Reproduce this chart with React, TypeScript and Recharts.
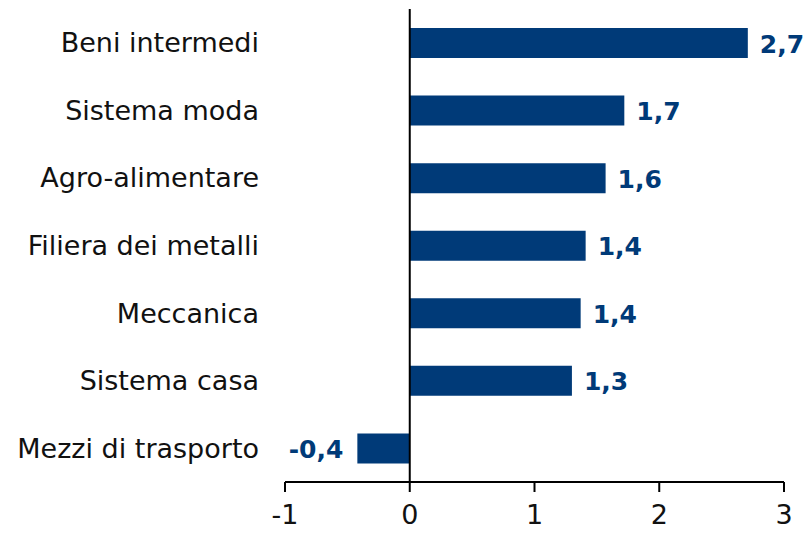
import { Bar, BarChart, LabelList, ReferenceLine, XAxis, YAxis } from "recharts";

const CATEGORIES = [
  "Beni intermedi",
  "Sistema moda",
  "Agro-alimentare",
  "Filiera dei metalli",
  "Meccanica",
  "Sistema casa",
  "Mezzi di trasporto",
];
const VALUES = [2.71, 1.72, 1.57, 1.41, 1.37, 1.3, -0.42];
const X_TICKS = [-1, 0, 1, 2, 3];

const BAR_COLOR = "#003a78";
const FONT = "'DejaVu Sans', sans-serif";

const data = CATEGORIES.map((name, i) => ({ name, value: VALUES[i] }));

const fmt = (v: number) => v.toFixed(1).replace(".", ",");

function CategoryTick(props: any) {
  const { x, y, payload } = props;
  return (
    <text
      x={x - 18}
      y={y}
      textAnchor="end"
      dominantBaseline="central"
      fontFamily={FONT}
      fontSize={27}
      fill="#111"
    >
      {payload.value}
    </text>
  );
}

// value sits right of positive bars, left of negative ones
function ValueLabel(props: any) {
  const { x, y, width, height, value } = props;
  const neg = value < 0;
  return (
    <text
      x={neg ? Math.min(x, x + width) - 14 : x + width + 12}
      y={y + height / 2 + 1}
      textAnchor={neg ? "end" : "start"}
      dominantBaseline="central"
      fontFamily={FONT}
      fontWeight="bold"
      fontSize={25}
      fill={BAR_COLOR}
    >
      {fmt(value)}
    </text>
  );
}

export default function App() {
  return (
    <div style={{ position: "absolute", left: 0, top: 0, background: "#fff" }}>
      <BarChart
        width={807}
        height={533}
        data={data}
        layout="vertical"
        margin={{ top: 9, right: 23, bottom: 0, left: 0 }}
        barSize={30}
      >
        <XAxis
          type="number"
          domain={[-1, 3]}
          ticks={X_TICKS}
          interval={0}
          height={51}
          tickSize={10}
          tickMargin={13}
          axisLine={{ stroke: "#000", strokeWidth: 2 }}
          tickLine={{ stroke: "#000", strokeWidth: 2 }}
          tick={{ fill: "#111", fontSize: 27, fontFamily: FONT }}
        />
        <YAxis
          type="category"
          dataKey="name"
          width={285}
          axisLine={false}
          tickLine={false}
          tick={<CategoryTick />}
        />
        <ReferenceLine x={0} stroke="#000" strokeWidth={2} />
        <Bar dataKey="value" fill={BAR_COLOR} isAnimationActive={false}>
          <LabelList dataKey="value" content={<ValueLabel />} />
        </Bar>
      </BarChart>
    </div>
  );
}
